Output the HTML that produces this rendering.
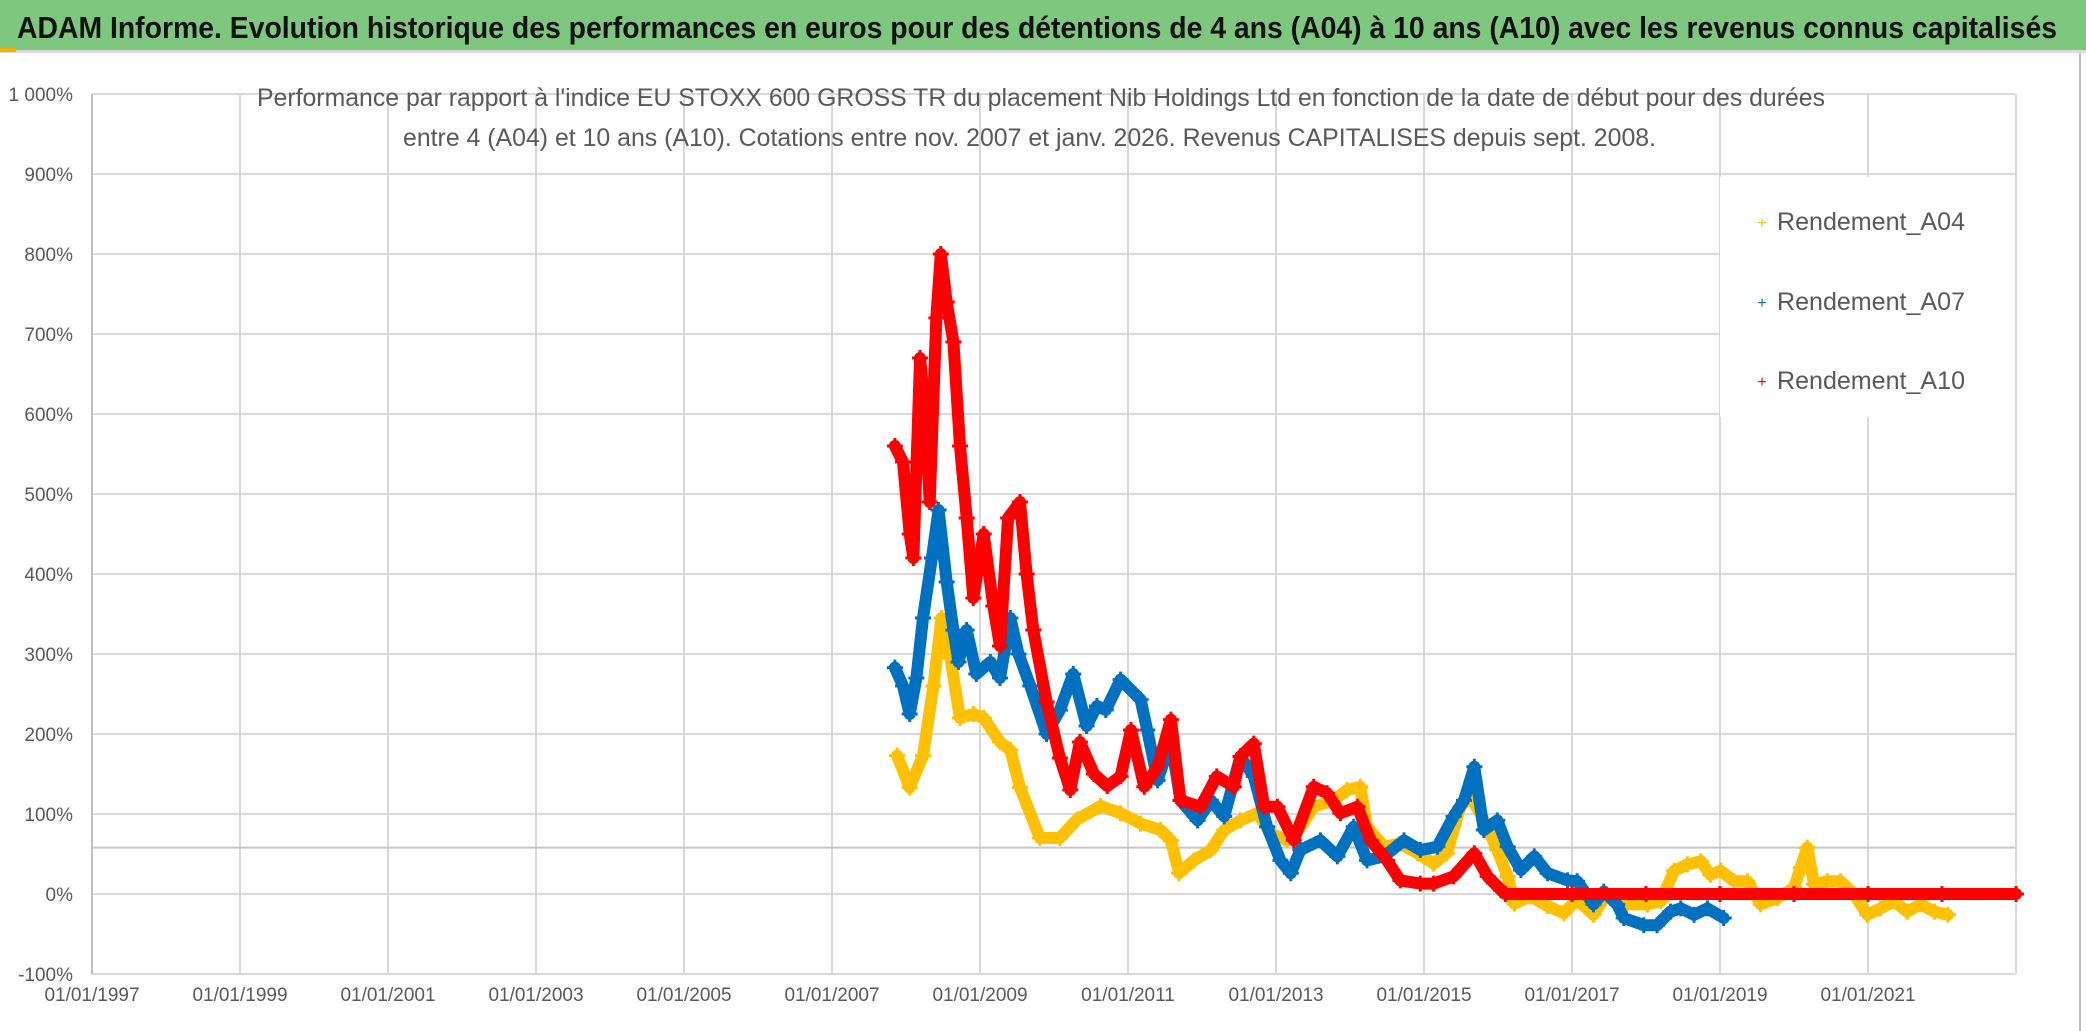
<!DOCTYPE html>
<html><head><meta charset="utf-8">
<style>
html,body{margin:0;padding:0;background:#fff;}
svg{display:block;font-family:"Liberation Sans",sans-serif;}
</style></head>
<body>
<svg id="chart" width="2086" height="1031" viewBox="0 0 2086 1031" xmlns="http://www.w3.org/2000/svg">
  <rect x="0" y="0" width="2086" height="50" fill="#7DC87E"/>
  <rect x="0" y="50" width="2086" height="3" fill="#d9d9d9"/>
  <rect x="0" y="48" width="16" height="4" fill="#f0b400"/>
  <text x="17" y="38" font-size="31" font-weight="bold" fill="#111" textLength="2040" lengthAdjust="spacingAndGlyphs">ADAM Informe. Evolution historique des performances en euros pour des détentions de 4 ans (A04) à 10 ans (A10) avec les revenus connus capitalisés</text>
  <line x1="2080" y1="53" x2="2080" y2="1031" stroke="#bfbfbf" stroke-width="2"/>
  <g id="grid"></g>
  <g id="marks"></g>
  <text x="257" y="106" font-size="25" fill="#595959" textLength="1568" lengthAdjust="spacingAndGlyphs">Performance par rapport à l'indice EU STOXX 600 GROSS TR  du placement Nib Holdings Ltd en fonction de la date de début pour des durées</text>
  <text x="403" y="146" font-size="25" fill="#595959" textLength="1253" lengthAdjust="spacingAndGlyphs">entre 4 (A04) et 10 ans (A10). Cotations entre nov. 2007 et janv. 2026. Revenus CAPITALISES depuis sept. 2008.</text>
  <g>
    <rect x="1720" y="177" width="295" height="240" fill="#fff"/>
    <g>
      <text x="1762" y="228" font-size="16" fill="#FFC000" text-anchor="middle">+</text>
      <text x="1777" y="230" font-size="25" fill="#595959" textLength="188" lengthAdjust="spacingAndGlyphs">Rendement_A04</text>
    </g>
    <g>
      <text x="1762" y="308" font-size="16" fill="#0070C0" text-anchor="middle">+</text>
      <text x="1777" y="310" font-size="25" fill="#595959" textLength="188" lengthAdjust="spacingAndGlyphs">Rendement_A07</text>
    </g>
    <g>
      <text x="1762" y="387" font-size="16" fill="#FF0000" text-anchor="middle">+</text>
      <text x="1777" y="389" font-size="25" fill="#595959" textLength="188" lengthAdjust="spacingAndGlyphs">Rendement_A10</text>
    </g>
  </g>
</svg>
<script>
const yTicks = [-100,0,100,200,300,400,500,600,700,800,900,1000];
const yTickLabels = ["-100%","0%","100%","200%","300%","400%","500%","600%","700%","800%","900%","1 000%"];
const xTickYears = [1997,1999,2001,2003,2005,2007,2009,2011,2013,2015,2017,2019,2021,2023];
const xTickLabels = ["01/01/1997","01/01/1999","01/01/2001","01/01/2003","01/01/2005","01/01/2007","01/01/2009","01/01/2011","01/01/2013","01/01/2015","01/01/2017","01/01/2019","01/01/2021",""];
const refLineValue = 58;

const a04Dates = [2007.88,2008.05,2008.23,2008.37,2008.48,2008.6,2008.73,2008.91,2009.05,2009.27,2009.41,2009.54,2009.81,2010.08,2010.31,2010.63,2010.9,2011.17,2011.44,2011.58,2011.69,2011.89,2012.12,2012.3,2012.52,2012.75,2012.93,2013.15,2013.33,2013.51,2013.78,2013.96,2014.14,2014.23,2014.46,2014.68,2014.91,2015.13,2015.31,2015.49,2015.63,2015.81,2015.99,2016.13,2016.22,2016.44,2016.67,2016.89,2017.07,2017.29,2017.47,2017.74,2018.02,2018.2,2018.38,2018.56,2018.74,2018.87,2019.01,2019.19,2019.37,2019.55,2019.78,2020.0,2020.09,2020.18,2020.27,2020.45,2020.63,2020.81,2020.99,2021.17,2021.35,2021.53,2021.71,2021.9,2022.08];
const a04Values = [173,133,173,260,345,295,220,225,220,190,180,133,70,70,93,110,101,88,80,67,26,42,55,80,92,101,76,67,84,109,117,130,134,84,59,63,51,38,51,109,122,92,55,22,-12,-3,-15,-24,-7,-26,0,-13,-13,-9,29,37,41,24,29,16,16,-13,-5,8,33,58,12,16,16,0,-26,-18,-9,-22,-13,-22,-26];

const a07Dates = [2007.85,2007.96,2008.05,2008.14,2008.23,2008.35,2008.44,2008.55,2008.64,2008.71,2008.82,2008.95,2009.14,2009.27,2009.41,2009.52,2009.68,2009.9,2010.08,2010.26,2010.44,2010.58,2010.7,2010.9,2011.17,2011.26,2011.4,2011.58,2011.71,2011.94,2012.12,2012.3,2012.52,2012.7,2012.88,2013.06,2013.2,2013.33,2013.6,2013.83,2014.05,2014.23,2014.46,2014.73,2014.95,2015.18,2015.4,2015.54,2015.68,2015.81,2015.99,2016.13,2016.31,2016.49,2016.67,2016.94,2017.07,2017.29,2017.43,2017.61,2017.7,2017.97,2018.15,2018.33,2018.47,2018.65,2018.83,2019.05];
const a07Values = [283,260,225,270,345,420,480,390,330,290,330,275,290,270,345,300,260,200,230,275,210,235,230,268,243,205,142,192,117,92,117,97,172,147,84,42,26,55,67,47,84,42,47,67,55,59,97,117,159,80,92,59,30,47,26,17,16,-13,3,-13,-30,-39,-39,-22,-18,-26,-18,-30];

const a10Dates = [2007.85,2007.96,2008.05,2008.1,2008.19,2008.26,2008.32,2008.41,2008.47,2008.55,2008.64,2008.73,2008.82,2008.91,2009.05,2009.18,2009.27,2009.38,2009.54,2009.63,2009.72,2009.9,2010.08,2010.22,2010.35,2010.54,2010.72,2010.9,2011.04,2011.22,2011.4,2011.58,2011.71,2011.98,2012.2,2012.43,2012.52,2012.7,2012.84,2013.02,2013.24,2013.51,2013.69,2013.87,2014.1,2014.28,2014.5,2014.68,2014.95,2015.13,2015.4,2015.68,2015.86,2016.04,2016.1,2017,2018,2019,2020,2021,2022,2023.0];
const a10Values = [560,540,450,420,670,600,490,720,800,740,690,560,470,370,450,360,310,470,490,400,330,240,170,130,190,150,135,147,205,134,159,218,117,109,147,134,172,188,109,109,67,134,126,101,109,67,42,17,13,13,22,51,22,5,0,0,0,0,0,0,0,0];

const X0 = 92, PX_PER_YEAR = 74, Y0 = 894, PX_PER_PCT = 0.8;
const PLOT_TOP = 94, PLOT_BOTTOM = 974, PLOT_RIGHT = 2015;
function xScale(yr){ return X0 + (yr - 1997) * PX_PER_YEAR; }
function yScale(v){ return Y0 - v * PX_PER_PCT; }

const NS = "http://www.w3.org/2000/svg";
const grid = document.getElementById("grid");
const marks = document.getElementById("marks");
function mk(tag, attrs, parent){
  const e = document.createElementNS(NS, tag);
  for (const k in attrs) e.setAttribute(k, attrs[k]);
  parent.appendChild(e);
  return e;
}

yTicks.forEach((v, i) => {
  const ln = mk("line", {x1: X0, x2: PLOT_RIGHT, y1: yScale(v), y2: yScale(v), stroke: "#d9d9d9", "stroke-width": 2}, grid);
  
  
  const t = mk("text", {x: 73, y: yScale(v) + 7, "font-size": 19, fill: "#595959", "text-anchor": "end"}, grid);
  t.textContent = yTickLabels[i];
  
  
});
xTickYears.forEach((yr, i) => {
  const ln = mk("line", {x1: xScale(yr), x2: xScale(yr), y1: PLOT_TOP, y2: PLOT_BOTTOM, stroke: i === 0 ? "#bfbfbf" : "#d9d9d9", "stroke-width": 2}, grid);
  
  
  const t = mk("text", {x: xScale(yr), y: 1001, "font-size": 19, fill: "#595959", "text-anchor": "middle"}, grid);
  t.textContent = xTickLabels[i];
  
  
});
const ref = mk("line", {x1: X0, x2: PLOT_RIGHT, y1: yScale(refLineValue), y2: yScale(refLineValue), stroke: "#c8c8c8", "stroke-width": 2}, grid);



function drawSeries(dates, values, color, name){
  const g = mk("g", {}, marks);
  
  
  const pts = dates.map((d, i) => xScale(d).toFixed(1) + "," + yScale(values[i]).toFixed(1)).join(" ");
  const pl = mk("polyline", {points: pts, fill: "none", stroke: color, "stroke-width": 12, "stroke-linejoin": "round", "stroke-linecap": "round"}, g);
  
  
  dates.forEach((d, i) => {
    const x = xScale(d), y = yScale(values[i]);
    const p = mk("path", {d: `M${x-8},${y}H${x+8}M${x},${y-8}V${y+8}`, stroke: color, "stroke-width": 3}, g);
    
    
  });
}
drawSeries(a04Dates, a04Values, "#FFC000", "series-a04");
drawSeries(a07Dates, a07Values, "#0070C0", "series-a07");
drawSeries(a10Dates, a10Values, "#FF0000", "series-a10");
</script>
</body></html>
